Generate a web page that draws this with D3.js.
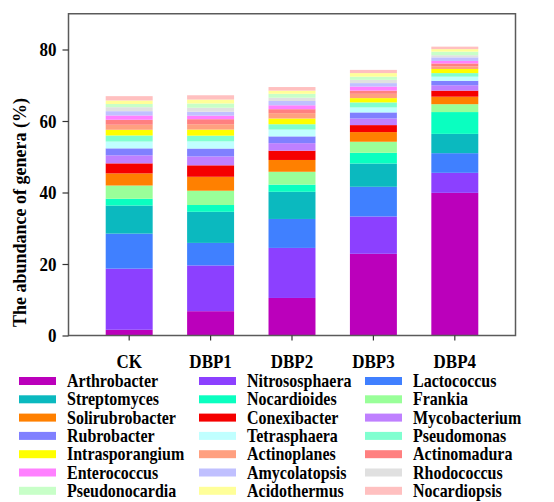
<!DOCTYPE html>
<html>
<head>
<meta charset="utf-8">
<script src="https://cdn.jsdelivr.net/npm/d3@7"></script>
<style>
  html, body { margin: 0; padding: 0; background: #ffffff; }
  svg { display: block; }
  text { font-family: "Liberation Serif", "Times New Roman", serif; font-weight: bold; fill: #000; }
</style>
</head>
<body>
<svg id="chart" width="554" height="502"></svg>
<script>
// Treatments along the x axis
const samples = ["CK", "DBP1", "DBP2", "DBP3", "DBP4"];

// Genera, in stacking order (bottom to top) and legend order
const genera = [
  "Arthrobacter", "Nitrososphaera", "Lactococcus",
  "Streptomyces", "Nocardioides", "Frankia",
  "Solirubrobacter", "Conexibacter", "Mycobacterium",
  "Rubrobacter", "Tetrasphaera", "Pseudomonas",
  "Intrasporangium", "Actinoplanes", "Actinomadura",
  "Enterococcus", "Amycolatopsis", "Rhodococcus",
  "Pseudonocardia", "Acidothermus", "Nocardiopsis"
];

const generaColors = [
  "#bb00bb", "#8c40ff", "#4080ff",
  "#0bb9bf", "#0affc0", "#99ff99",
  "#ff8000", "#f50000", "#bf80ff",
  "#8080ff", "#c0ffff", "#80ffd0",
  "#ffff00", "#ffa080", "#ff8080",
  "#ff80ff", "#c0c0ff", "#e0e0e0",
  "#c8ffc8", "#ffff99", "#ffc0c0"
];

// Relative abundance (%) of each genus, one array per treatment
const ck   = [1.6, 17.1, 9.8, 7.85, 1.9, 3.7, 3.4, 2.8, 2.25, 1.95, 1.9, 1.7, 1.6, 1.4, 1.4, 1.2, 1.2, 1.1, 0.9, 1.0, 1.2];
const dbp1 = [6.8, 12.8, 6.3, 8.7, 1.9, 4.0, 3.9, 3.2, 2.5, 2.2, 2.0, 1.6, 1.7, 1.5, 1.4, 1.0, 1.1, 1.1, 1.2, 1.1, 1.2];
const dbp2 = [10.5, 14.0, 8.1, 7.6, 2.0, 3.6, 3.3, 2.6, 2.1, 1.9, 1.9, 1.5, 1.6, 1.5, 1.1, 1.1, 1.2, 0.9, 1.1, 0.9, 1.0];
const dbp3 = [22.85, 10.45, 8.3, 6.5, 3.0, 3.1, 2.7, 1.95, 1.85, 1.7, 1.4, 1.4, 1.2, 1.2, 0.9, 1.15, 0.95, 0.9, 0.9, 1.0, 0.9];
const dbp4 = [39.9, 5.6, 5.5, 5.4, 6.1, 2.2, 2.1, 1.7, 1.5, 1.25, 1.15, 1.0, 1.15, 0.75, 0.8, 0.7, 1.0, 0.6, 1.0, 0.7, 0.7];

const yTicks = [0, 20, 40, 60, 80];
const yLabel = "The abundance of genera (%)";

const sampleValues = [ck, dbp1, dbp2, dbp3, dbp4];

// Rows for d3.stack: one object per treatment keyed by genus
const rows = samples.map((s, i) => {
  const row = { sample: s };
  genera.forEach((g, j) => { row[g] = sampleValues[i][j]; });
  return row;
});

const svg = d3.select("#chart");
const frame = { left: 68.5, right: 515.5, top: 13.75, bottom: 335.5 };

const x = d3.scaleBand()
  .domain(samples)
  .range([frame.left, frame.right])
  .paddingInner(0.423)
  .paddingOuter(0.457);

const y = d3.scaleLinear()
  .domain([0, 90])
  .range([frame.bottom, frame.top]);

const color = d3.scaleOrdinal().domain(genera).range(generaColors);

const stacked = d3.stack().keys(genera)(rows);

// Stacked bars
svg.append("g")
  .selectAll("g")
  .data(stacked)
  .join("g")
  .attr("fill", d => color(d.key))
  .selectAll("rect")
  .data(d => d)
  .join("rect")
  .attr("x", d => x(d.data.sample))
  .attr("width", x.bandwidth())
  .attr("y", d => y(d[1]))
  .attr("height", d => y(d[0]) - y(d[1]));

// Plot frame
svg.append("rect")
  .attr("x", frame.left)
  .attr("y", frame.top)
  .attr("width", frame.right - frame.left)
  .attr("height", frame.bottom - frame.top)
  .attr("fill", "none")
  .attr("stroke", "#5a5a5a")
  .attr("stroke-width", 1.5);

const stretch = "scale(1,1.12)";

// Y axis
const yAxis = svg.append("g")
  .attr("transform", `translate(${frame.left},0)`)
  .call(d3.axisLeft(y).tickValues(yTicks).tickSize(6).tickPadding(6).tickFormat(d3.format("d")));
yAxis.select(".domain").remove();
yAxis.selectAll(".tick line").attr("stroke", "#333").attr("stroke-width", 1.2);
yAxis.selectAll(".tick text")
  .attr("font-size", 17)
  .attr("font-family", "Liberation Serif")
  .attr("font-weight", "bold")
  .attr("transform", stretch);

// X axis
const xAxis = svg.append("g")
  .attr("transform", `translate(0,${frame.bottom})`)
  .call(d3.axisBottom(x).tickSize(5).tickPadding(12));
xAxis.select(".domain").remove();
xAxis.selectAll(".tick line").attr("stroke", "#333").attr("stroke-width", 1.2);
xAxis.selectAll(".tick text")
  .attr("font-size", 17)
  .attr("font-family", "Liberation Serif")
  .attr("font-weight", "bold")
  .attr("transform", stretch);

// Y axis title
svg.append("text")
  .attr("transform", "translate(20,212.5) rotate(-90)")
  .attr("text-anchor", "middle")
  .attr("dominant-baseline", "central")
  .attr("font-size", 18)
  .text(yLabel);

// Legend: three columns, row-major order
const legendCols = [19, 199, 365];
const legendTop = 381;
const legendStep = 18.3;

const legend = svg.append("g")
  .selectAll("g")
  .data(genera)
  .join("g")
  .attr("transform", (d, i) => `translate(${legendCols[i % 3]},${legendTop + Math.floor(i / 3) * legendStep})`);

legend.append("rect")
  .attr("x", 0)
  .attr("y", -4)
  .attr("width", 37)
  .attr("height", 8)
  .attr("fill", d => color(d));

legend.append("text")
  .attr("transform", `translate(48,6) ${stretch}`)
  .attr("font-size", 16)
  .text(d => d);
</script>
</body>
</html>
